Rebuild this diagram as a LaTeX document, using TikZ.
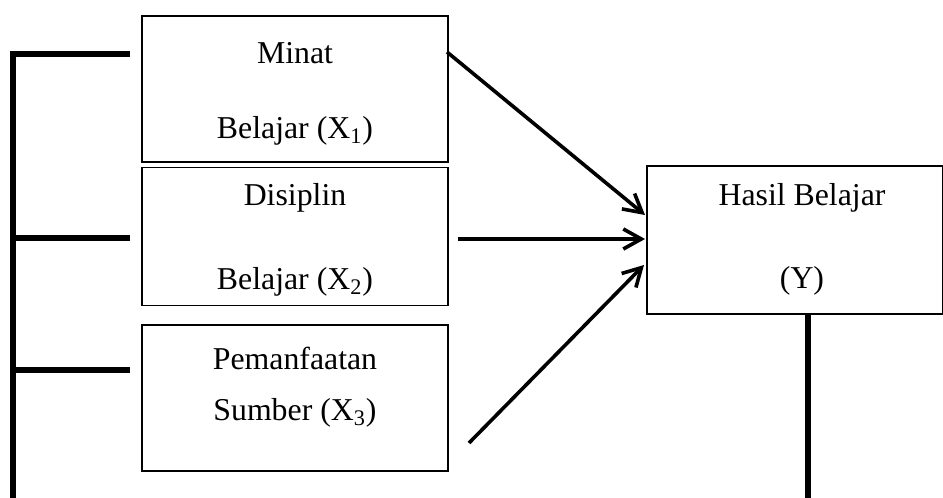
\documentclass[tikz,border=0pt]{standalone}
\usepackage{fontspec}
\setmainfont{Liberation Serif}
\usetikzlibrary{arrows.meta}
\begin{document}
\begin{tikzpicture}[x=0.5pt,y=-0.5pt,
  box/.style={draw=black,line width=0.6pt,inner sep=0pt,rectangle},
  lbl/.style={font=\fontsize{15.9}{19}\selectfont,inner sep=0pt,anchor=center},
  thick line/.style={line width=2.6pt,line join=miter},
  arr/.style={line width=1.8pt,-{Straight Barb[length=9pt,width=10pt,line width=1.8pt]}}]
\useasboundingbox (0,0) rectangle (943,498);
% boxes
\node[box,minimum width=153pt,minimum height=73pt] (b1) at (295,89) {};
\node[box,minimum width=153pt,minimum height=69pt] (b2) at (295,236.5) {};
\node[box,minimum width=153pt,minimum height=73pt] (b3) at (295,398) {};
\node[box,minimum width=147.75pt,minimum height=74pt] (y) at (794.75,240) {};
% labels
\node[lbl] (t1a) at (295,53) {Minat};
\node[lbl] (t1b) at (295,131) {Belajar (X\textsubscript{1})};
\node[lbl] (t2a) at (295,198) {Disiplin};
\node[lbl] (t2b) at (295,282) {Belajar (X\textsubscript{2})};
\node[lbl] (t3a) at (295,358) {Pemanfaatan};
\node[lbl] (t3b) at (295,413) {Sumber (X\textsubscript{3})};
\node[lbl] (tya) at (802,198) {Hasil Belajar};
\node[lbl] (tyb) at (802,281) {(Y)};
% left bracket
\coordinate (h1) at (130,54);
\coordinate (h2) at (130,238);
\coordinate (h3) at (130,370);
\coordinate (lb) at (13,500);
\draw[thick line] (h1) -| (lb);
\draw[thick line] (h2) -- (h2 -| lb);
\draw[thick line] (h3) -- (h3 -| lb);
% arrows
\coordinate (s1) at (447,52);
\coordinate (e1) at (645,215);
\coordinate (s2) at (458,239);
\coordinate (e2) at (645,239);
\coordinate (s3) at (469,443);
\coordinate (e3) at (644,265);
\draw[arr] (s1) -- (e1);
\draw[arr] (s2) -- (e2);
\draw[arr] (s3) -- (e3);
% line down from Y
\coordinate (yb) at (808,500);
\draw[thick line] (y.south -| yb) -- (yb);
\end{tikzpicture}
\end{document}
